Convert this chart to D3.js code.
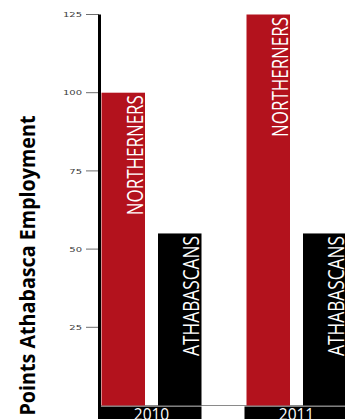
<!DOCTYPE html>
<html>
<head>
<style>
  body { margin: 0; background: #fff; }
  svg { display: block; }
</style>
</head>
<body>
<svg id='chart'></svg>
<script src="https://d3js.org/d3.v7.min.js"></script>
<script>
var W = 345, H = 419;
var RED = '#b3121d';

var years = ['2010', '2011'];
var groups = ['NORTHERNERS', 'ATHABASCANS'];
var northerners = [100, 125];
var athabascans = [55, 55];
var yTicks = [25, 50, 75, 100, 125];
var yTitle = 'Points Athabasca Employment';

var seriesColor = { NORTHERNERS: RED, ATHABASCANS: '#000' };

var rows = [];
years.forEach(function(y, i) {
	rows.push({ year: y, group: 'NORTHERNERS', value: northerners[i] });
	rows.push({ year: y, group: 'ATHABASCANS', value: athabascans[i] });
});

var svg = d3.select('#chart')
	.attr('width', W)
	.attr('height', H);

var x0 = d3.scaleBand()
	.domain(years)
	.range([101.5, 346.5])
	.paddingInner(45 / 145)
	.paddingOuter(0);

var x1 = d3.scaleBand()
	.domain(groups)
	.range([0, x0.bandwidth()])
	.paddingInner(13 / 56.5)
	.paddingOuter(0);

var y = d3.scaleLinear()
	.domain([0, 125])
	.range([405.5, 14.5]);

// gray baseline
svg.append('line')
	.attr('x1', 99).attr('x2', W)
	.attr('y1', 405.5).attr('y2', 405.5)
	.style('stroke', '#8a8a8a')
	.style('stroke-width', 1);

// bars
svg.selectAll('rect.bar')
	.data(rows)
	.enter()
	.append('rect')
	.attr('class', 'bar')
	.attr('x', function(d) { return x0(d.year) + x1(d.group); })
	.attr('y', function(d) { return y(d.value); })
	.attr('width', x1.bandwidth())
	.attr('height', function(d) { return y(0) - y(d.value); })
	.style('fill', function(d) { return seriesColor[d.group]; });

// labels inside the bars, running bottom to top
svg.selectAll('text.barLabel')
	.data(rows)
	.enter()
	.append('text')
	.attr('class', 'barLabel')
	.attr('transform', function(d) {
		var bx = x0(d.year) + x1(d.group) + x1.bandwidth() - 2.5;
		var by = y(d.value) + 2.5;
		return 'translate(' + bx + ',' + by + ') rotate(-90)';
	})
	.attr('text-anchor', 'end')
	.attr('font-family', 'Open Sans')
	.attr('font-size', 22)
	.attr('textLength', 120)
	.attr('lengthAdjust', 'spacingAndGlyphs')
	.style('fill', '#fff')
	.text(function(d) { return d.group; });

// year bands under the bars
svg.selectAll('rect.band')
	.data(years)
	.enter()
	.append('rect')
	.attr('class', 'band')
	.attr('x', function(d) { return x0(d) - 2; })
	.attr('y', 406.5)
	.attr('width', x0.bandwidth() + 2)
	.attr('height', 20)
	.style('fill', '#000');

svg.selectAll('text.year')
	.data(years)
	.enter()
	.append('text')
	.attr('class', 'year')
	.attr('x', function(d) { return x0(d) + x0.bandwidth() / 2; })
	.attr('y', 419.5)
	.attr('text-anchor', 'middle')
	.attr('font-family', 'Open Sans')
	.attr('font-size', 15.5)
	.style('fill', '#fff')
	.text(function(d) { return d; });

// y axis
var axis = svg.append('g');

axis.selectAll('line.tick')
	.data(yTicks)
	.enter()
	.append('line')
	.attr('class', 'tick')
	.attr('x1', 86).attr('x2', 99)
	.attr('y1', function(d) { return y(d); })
	.attr('y2', function(d) { return y(d); })
	.style('stroke', '#6e6e6e')
	.style('stroke-width', 1);

axis.selectAll('text.tickLabel')
	.data(yTicks)
	.enter()
	.append('text')
	.attr('class', 'tickLabel')
	.attr('transform', function(d) { return 'translate(82,' + (y(d) + 2.7) + ') scale(1,0.73)'; })
	.attr('text-anchor', 'end')
	.attr('font-family', 'DejaVu Sans')
	.attr('font-size', 10)
	.style('fill', '#3a3a3a')
	.text(function(d) { return d; });

axis.append('line')
	.attr('x1', 99.5).attr('x2', 99.5)
	.attr('y1', y(125)).attr('y2', H)
	.style('stroke', '#000')
	.style('stroke-width', 3);

// y title
svg.append('text')
	.attr('transform', 'translate(35,265.5) rotate(-90)')
	.attr('text-anchor', 'middle')
	.attr('font-family', 'Open Sans')
	.attr('font-weight', 'bold')
	.attr('font-size', 21.5)
	.attr('textLength', 300)
	.attr('lengthAdjust', 'spacingAndGlyphs')
	.style('fill', '#000')
	.text(yTitle);
</script>
</body>
</html>
